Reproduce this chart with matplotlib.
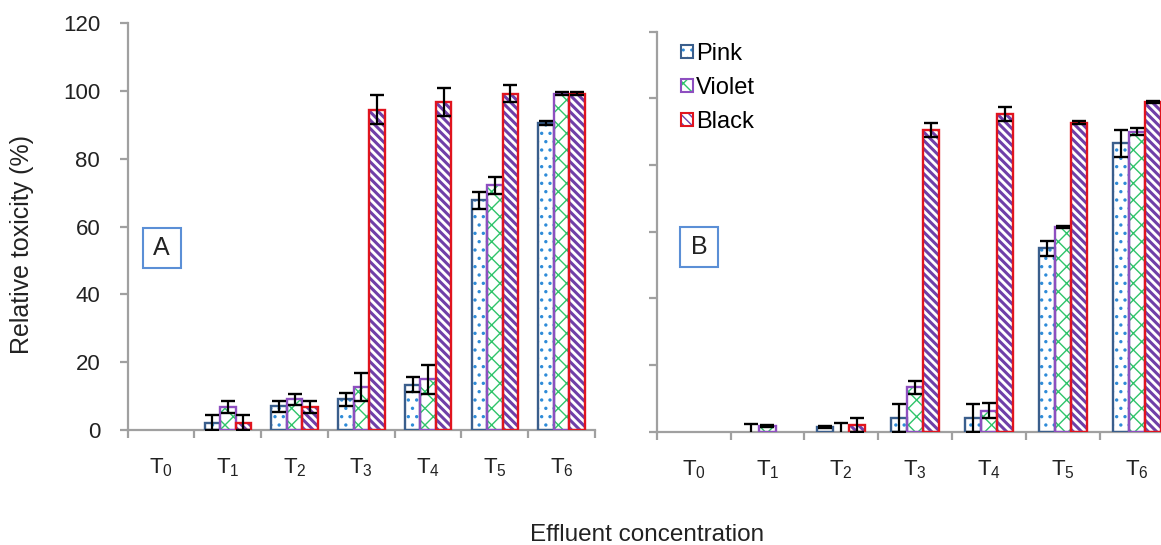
import numpy as np
import matplotlib
matplotlib.use("Agg")
import matplotlib.pyplot as plt
from matplotlib.patches import Rectangle, Patch

plt.rcParams['font.family'] = ['Liberation Sans', 'DejaVu Sans']

categories = ['0', '1', '2', '3', '4', '5', '6']
series_names = ['Pink', 'Violet', 'Black']

A_pink = [0, 2.2, 7.0, 9.0, 13.3, 67.8, 90.6]
A_pink_err = [0, 2.3, 1.6, 1.8, 2.2, 2.5, 0.6]
A_violet = [0, 6.7, 9.0, 12.7, 15.0, 72.2, 99.2]
A_violet_err = [0, 1.8, 1.7, 4.2, 4.3, 2.5, 0.4]
A_black = [0, 2.2, 6.8, 94.5, 96.8, 99.2, 99.2]
A_black_err = [0, 2.3, 1.7, 4.2, 4.2, 2.5, 0.4]

B_pink = [0, 0, 1.5, 4.0, 4.0, 55.0, 86.5]
B_pink_err = [0, 2.3, 0.3, 4.2, 4.2, 2.3, 4.0]
B_violet = [0, 1.8, 0, 13.3, 6.3, 61.3, 90.0]
B_violet_err = [0, 0.3, 2.5, 1.9, 2.2, 0.3, 1.0]
B_black = [0, 0, 2.0, 90.5, 95.3, 92.7, 99.0]
B_black_err = [0, 0, 2.0, 2.2, 2.2, 0.5, 0.3]

styles = {
    'Pink': dict(border='#3A5E8C', hatchcolor='#2E8BD8', hatch='..', hlw=1.2),
    'Violet': dict(border='#8E4FC0', hatchcolor='#2FC46A', hatch='xx', hlw=1.0),
    'Black': dict(border='#E0141E', hatchcolor='#6F3FA8', hatch='\\\\\\\\', hlw=2.2),
}

W, H = 1161, 545
fig = plt.figure(figsize=(W / 100, H / 100), dpi=100)

def px_axes(left, right, top, bottom):
    return fig.add_axes([left / W, 1 - bottom / H, (right - left) / W, (bottom - top) / H])

axA = px_axes(127.7, 595.0, 23.3, 430.0)
axB = px_axes(656.7, 656.7 + 7 * 73.85, 31.7, 431.7)

spine_col = '#A0A0A0'
text_col = '#222222'

def draw_bar(ax, x, vals, name, width):
    st = styles[name]
    vals = np.asarray(vals, float)
    m = vals > 0
    with plt.rc_context({'hatch.linewidth': st['hlw']}):
        bars = ax.bar(x[m], vals[m], width, color='white', edgecolor=st['hatchcolor'],
                      hatch=st['hatch'], linewidth=0, zorder=2)
        for b in bars:
            if hasattr(b, 'set_hatch_linewidth'):
                b.set_hatch_linewidth(st['hlw'])
    ax.bar(x[m], vals[m], width, fill=False, edgecolor=st['border'], linewidth=1.7, zorder=3)

def draw_err(ax, x, vals, errs):
    vals = np.asarray(vals, float)
    errs = np.asarray(errs, float)
    m = errs > 0
    ax.errorbar(x[m], vals[m], yerr=errs[m], fmt='none', ecolor='black',
                elinewidth=1.6, capsize=4.7, capthick=1.7, zorder=5)

def setup(ax, show_labels):
    n = len(categories)
    x = np.arange(n)
    ax.set_xlim(-0.5, n - 0.5)
    ax.set_ylim(0, 120)
    for s in ['top', 'right']:
        ax.spines[s].set_visible(False)
    for s in ['left', 'bottom']:
        ax.spines[s].set_color(spine_col)
        ax.spines[s].set_linewidth(1.6)
    ax.set_xticks(np.arange(-0.5, n, 1.0))
    ax.set_xticklabels([])
    ax.set_xticks(x, minor=True)
    ax.set_xticklabels([r'$\mathregular{T_{%s}}$' % c for c in categories], minor=True,
                       fontsize=16, color=text_col)
    ax.tick_params(axis='x', which='major', length=6, width=1.6, color=spine_col, direction='out')
    ax.tick_params(axis='x', which='minor', length=0, pad=19)
    ax.set_yticks(np.arange(0, 121, 20))
    ax.tick_params(axis='y', length=5.8, width=1.6, color=spine_col, direction='out', pad=14,
                   labelsize=16, labelcolor=text_col)
    if not show_labels:
        ax.set_yticklabels([])
    return x

def panel(ax, data, bw, show_labels):
    x = setup(ax, show_labels)
    offs = [-bw, 0, bw]
    for (name, vals, errs), o in zip(data, offs):
        draw_bar(ax, x + o, vals, name, bw)
    for (name, vals, errs), o in zip(data, offs):
        draw_err(ax, x + o, vals, errs)

panel(axA, [('Pink', A_pink, A_pink_err), ('Violet', A_violet, A_violet_err),
            ('Black', A_black, A_black_err)], 0.232, True)
panel(axB, [('Pink', B_pink, B_pink_err), ('Violet', B_violet, B_violet_err),
            ('Black', B_black, B_black_err)], 0.218, False)

fig.text(22 / W, 1 - 245 / H, 'Relative toxicity (%)', rotation=90, fontsize=18,
         ha='center', va='center', color=text_col)

fig.text(647 / W, 1 - 535 / H, 'Effluent concentration', fontsize=17.5,
         ha='center', va='center', color=text_col)

# Panel boxes
for lab, x0, y0 in [('A', 142.7, 227.7), ('B', 680.0, 226.5)]:
    bw_, bh_ = 38.0, 40.6
    fig.patches.append(Rectangle((x0 / W, 1 - (y0 + bh_) / H), bw_ / W, bh_ / H,
                                 transform=fig.transFigure, facecolor='white',
                                 edgecolor='#5B8FD6', linewidth=1.5, zorder=10))
    fig.text((x0 + bw_ / 2) / W, 1 - (y0 + bh_ / 2) / H, lab, fontsize=18,
             ha='center', va='center', color=text_col, zorder=11)

# Legend
handles = []
for name in series_names:
    st = styles[name]
    h1 = Patch(facecolor='white', edgecolor=st['hatchcolor'], hatch=st['hatch'], linewidth=0)
    h2 = Patch(fill=False, edgecolor=st['border'], linewidth=1.5)
    handles.append((h1, h2))
axB.legend(handles, series_names, loc='upper left', bbox_to_anchor=(681 / W, 1 - 43 / H),
           bbox_transform=fig.transFigure, frameon=False, fontsize=17,
           handlelength=0.5, handleheight=0.5, handletextpad=0.15, labelspacing=0.5,
           borderpad=0, borderaxespad=0)

fig.savefig('out.png', dpi=100)
